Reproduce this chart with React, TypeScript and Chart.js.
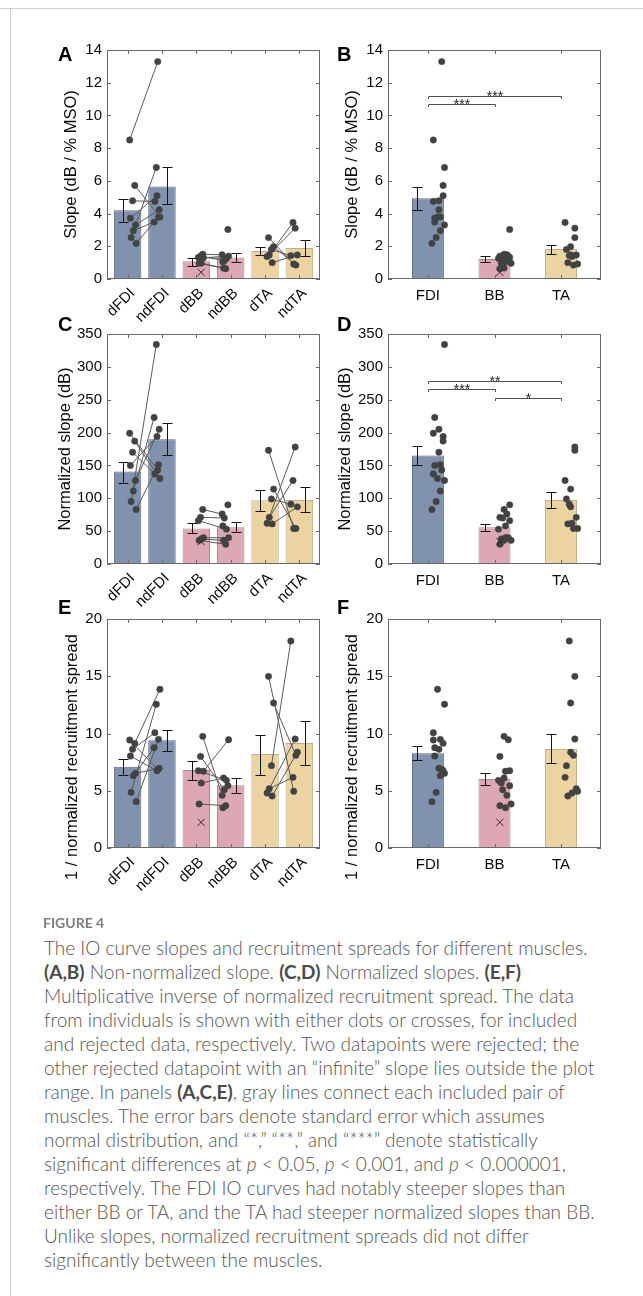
import React, { useEffect, useMemo, useRef } from "react";
import { Chart, registerables } from "chart.js";
Chart.register(...registerables);

// ---------------- categories & ticks ----------------
const PAIRED_CATEGORIES = ["dFDI", "ndFDI", "dBB", "ndBB", "dTA", "ndTA"];
const MUSCLE_CATEGORIES = ["FDI", "BB", "TA"];
const SLOPE_TICKS = [0, 2, 4, 6, 8, 10, 12, 14];
const NORM_TICKS = [0, 50, 100, 150, 200, 250, 300, 350];
const SPREAD_TICKS = [0, 5, 10, 15, 20];

// ---------------- Panel A/B: slope (dB / % MSO) ----------------
const slopePairedMean = [4.21, 5.66, 1.08, 1.32, 1.71, 1.89];
const slopePairedLow = [3.48, 4.6, 0.77, 1.04, 1.44, 1.42];
const slopePairedHigh = [4.92, 6.82, 1.28, 1.59, 1.93, 2.36];
const slopeMuscleMean = [4.94, 1.22, 1.83];
const slopeMuscleLow = [4.23, 1.04, 1.55];
const slopeMuscleHigh = [5.62, 1.4, 2.06];
const slope_dFDI = [8.5, 5.72, 4.78, 3.72, 3.3, 2.95, 2.54, 2.18];
const slope_ndFDI = [13.29, 3.79, 4.74, 5.09, 4.23, 3.48, 6.82, 3.79];
const slope_dBB = [1.51, 1.4, 1.32, 1.3, 0.97, 0.96];
const slope_ndBB = [1.48, 1.12, 1.26, 1.4, 0.67, 0.63, 3.03, 1.05];
const slope_dTA = [2.53, 1.98, 1.81, 1.47, 1.38, 1.0];
const slope_ndTA = [0.92, 0.85, 1.43, 3.46, 3.11, 1.47];
const slopeRejected_dBB = [0.41];
const slopeBrackets = [
  { from: 1, to: 3, y: 11.19, label: "***" },
  { from: 1, to: 2, y: 10.68, label: "***" },
];

// ---------------- Panel C/D: normalized slope (dB) ----------------
const normPairedMean = [140.7, 190, 54, 56, 97, 97.4];
const normPairedLow = [124, 166, 47, 48, 80, 79];
const normPairedHigh = [155, 214, 63, 64, 113, 117];
const normMuscleMean = [165, 56, 97.5];
const normMuscleLow = [150, 50.8, 85];
const normMuscleHigh = [180, 61.5, 110];
const norm_dFDI = [199, 187, 170, 150, 127, 111, 95, 83];
const norm_ndFDI = [143, 130, 137, 194, 205, 223, 334, 151];
const norm_dBB = [83, 71, 66, 40, 38, 36];
const norm_ndBB = [76, 70, 53, 40, 36, 30, 90, 58];
const norm_dTA = [173, 114, 99, 71, 62, 61];
const norm_ndTA = [54, 54, 91, 127, 178, 87];
const normRejected_dBB = [34];
const normBrackets = [
  { from: 1, to: 3, y: 279, label: "**" },
  { from: 1, to: 2, y: 267, label: "***" },
  { from: 2, to: 3, y: 253, label: "*" },
];

// ---------------- Panel E/F: 1 / normalized recruitment spread ----------------
const spreadPairedMean = [7.1, 9.4, 6.81, 5.47, 8.21, 9.17];
const spreadPairedLow = [6.4, 8.47, 5.94, 4.8, 6.4, 7.28];
const spreadPairedHigh = [7.8, 10.33, 7.6, 6.08, 9.87, 11.06];
const spreadMuscleMean = [8.27, 6.03, 8.65];
const spreadMuscleLow = [7.66, 5.47, 7.39];
const spreadMuscleHigh = [8.91, 6.55, 9.96];
const spread_dFDI = [9.43, 9.14, 8.62, 8.03, 6.52, 6.32, 4.86, 4.05];
const spread_ndFDI = [6.87, 13.86, 10.07, 6.75, 6.96, 8.76, 12.55, 9.49];
const spread_dBB = [9.75, 8.0, 6.75, 6.7, 5.68, 3.84];
const spread_ndBB = [4.6, 5.09, 5.91, 9.46, 6.11, 3.7, 5.44, 3.52];
const spread_dTA = [14.99, 12.66, 7.19, 5.18, 4.8, 4.54];
const spread_ndTA = [4.95, 8.09, 18.08, 6.17, 9.52, 8.36];
const spreadRejected_dBB = [2.24];

// ---------------- styles ----------------
const FONT = "'Liberation Sans', Arial, Helvetica, sans-serif";
const CAPTION_FONT = "Lato, 'Open Sans', sans-serif";
const TEXT = "#0a0a0a";
const AXIS = "#6a6a6a";
const FILL = { FDI: "#8092AE", BB: "#DDA8B4", TA: "#EBD4A1" };
const EDGE = { FDI: "#5A6883", BB: "#A6838C", TA: "#C2AD84" };
const MUSCLES = ["FDI", "BB", "TA"] as const;

type Pt = { x: number; y: number };
type Bracket = { from: number; to: number; y: number; label: string };
interface PanelSpec {
  cx: number; cy: number; cw: number; ch: number;
  plot: { l: number; t: number; r: number; b: number };
  cats: string[]; rotated: boolean; xmin: number; xmax: number;
  ticks: number[]; yTitle: string; titleX: number; titleY: number;
  letter: string; letterX: number; letterY: number;
  means: number[]; lo: number[]; hi: number[]; errOff: number[];
  fills: string[]; edges: string[];
  dots: Pt[]; rejected: Pt[]; pairs: [Pt, Pt][]; brackets: Bracket[];
}

// deterministic horizontal jitter (positions only)
const jit = (i: number, s: number) => 0.06 + ((i * 7 + s * 3) % 10) * 0.021;

function pairedMarks(groups: { d: number[]; nd: number[] }[], rejected: number[]) {
  const dots: Pt[] = [];
  const pairs: [Pt, Pt][] = [];
  groups.forEach((g, gi) => {
    const dx = 2 * gi + 1, ndx = 2 * gi + 2;
    const dPts = g.d.map((v, i) => ({ x: dx + jit(i, 2 * gi), y: v }));
    const ndPts = g.nd.map((v, i) => ({ x: ndx - jit(i, 2 * gi + 1), y: v }));
    const n = Math.min(dPts.length, ndPts.length);
    for (let i = 0; i < n; i++) pairs.push([dPts[i], ndPts[i]]);
    dots.push(...dPts, ...ndPts);
  });
  const rej = rejected.map((v) => ({ x: 3 + 0.14, y: v }));
  return { dots, pairs, rejected: rej };
}

function muscleMarks(groups: { d: number[]; nd: number[] }[], rejected: number[]) {
  const dots: Pt[] = [];
  groups.forEach((g, gi) => {
    g.d.concat(g.nd).forEach((v, i) => dots.push({ x: gi + 1 + jit(i, gi + 7), y: v }));
  });
  const rej = rejected.map((v) => ({ x: 2 + 0.08, y: v }));
  return { dots, pairs: [] as [Pt, Pt][], rejected: rej };
}

const ROWS = [
  { cy: 25, ch: 305, t: 50, b: 279 },
  { cy: 300, ch: 310, t: 334, b: 564 },
  { cy: 585, ch: 315, t: 619, b: 848 },
];
const COLS = [
  { cx: 20, cw: 315, l: 107, r: 320 },
  { cx: 325, cw: 318, l: 388, r: 601 },
];

const pairedFills = ["FDI", "FDI", "BB", "BB", "TA", "TA"].map((m) => (FILL as any)[m]);
const pairedEdges = ["FDI", "FDI", "BB", "BB", "TA", "TA"].map((m) => (EDGE as any)[m]);
const muscleFills = MUSCLES.map((m) => FILL[m]);
const muscleEdges = MUSCLES.map((m) => EDGE[m]);
const PAIRED_ERR_OFF = [-0.14, 0.15, -0.14, 0.15, -0.14, 0.15];
const MUSCLE_ERR_OFF = [-0.16, -0.15, -0.15];

function buildPanels(): PanelSpec[] {
  const slopeG = [
    { d: slope_dFDI, nd: slope_ndFDI },
    { d: slope_dBB, nd: slope_ndBB },
    { d: slope_dTA, nd: slope_ndTA },
  ];
  const normG = [
    { d: norm_dFDI, nd: norm_ndFDI },
    { d: norm_dBB, nd: norm_ndBB },
    { d: norm_dTA, nd: norm_ndTA },
  ];
  const spreadG = [
    { d: spread_dFDI, nd: spread_ndFDI },
    { d: spread_dBB, nd: spread_ndBB },
    { d: spread_dTA, nd: spread_ndTA },
  ];
  const base = (row: number, col: number) => {
    const R = ROWS[row], C = COLS[col];
    return {
      cx: C.cx, cy: R.cy, cw: C.cw, ch: R.ch,
      plot: { l: C.l, t: R.t, r: C.r, b: R.b },
    };
  };
  const paired = {
    cats: PAIRED_CATEGORIES, rotated: true, xmin: 0.4, xmax: 6.6,
    fills: pairedFills, edges: pairedEdges, errOff: PAIRED_ERR_OFF, brackets: [] as Bracket[],
  };
  const muscle = {
    cats: MUSCLE_CATEGORIES, rotated: false, xmin: 0.4, xmax: 3.6,
    fills: muscleFills, edges: muscleEdges, errOff: MUSCLE_ERR_OFF,
  };
  const t1 = "Slope (dB / % MSO)";
  const t2 = "Normalized slope (dB)";
  const t3 = "1 / normalized recruitment spread";
  return [
    {
      ...base(0, 0), ...paired, ticks: SLOPE_TICKS, yTitle: t1, titleX: 71, titleY: 164.5,
      letter: "A", letterX: 58, letterY: 55,
      means: slopePairedMean, lo: slopePairedLow, hi: slopePairedHigh,
      ...pairedMarks(slopeG, slopeRejected_dBB),
    },
    {
      ...base(0, 1), ...muscle, ticks: SLOPE_TICKS, yTitle: t1, titleX: 352, titleY: 164.5,
      letter: "B", letterX: 337, letterY: 55,
      means: slopeMuscleMean, lo: slopeMuscleLow, hi: slopeMuscleHigh, brackets: slopeBrackets,
      ...muscleMarks(slopeG, slopeRejected_dBB),
    },
    {
      ...base(1, 0), ...paired, ticks: NORM_TICKS, yTitle: t2, titleX: 65, titleY: 449,
      letter: "C", letterX: 58, letterY: 325,
      means: normPairedMean, lo: normPairedLow, hi: normPairedHigh,
      ...pairedMarks(normG, normRejected_dBB),
    },
    {
      ...base(1, 1), ...muscle, ticks: NORM_TICKS, yTitle: t2, titleX: 345, titleY: 449,
      letter: "D", letterX: 337, letterY: 325,
      means: normMuscleMean, lo: normMuscleLow, hi: normMuscleHigh, brackets: normBrackets,
      ...muscleMarks(normG, normRejected_dBB),
    },
    {
      ...base(2, 0), ...paired, ticks: SPREAD_TICKS, yTitle: t3, titleX: 72, titleY: 757,
      letter: "E", letterX: 58, letterY: 608.5,
      means: spreadPairedMean, lo: spreadPairedLow, hi: spreadPairedHigh,
      ...pairedMarks(spreadG, spreadRejected_dBB),
    },
    {
      ...base(2, 1), ...muscle, ticks: SPREAD_TICKS, yTitle: t3, titleX: 352, titleY: 757,
      letter: "F", letterX: 337, letterY: 608.5,
      means: spreadMuscleMean, lo: spreadMuscleLow, hi: spreadMuscleHigh, brackets: [],
      ...muscleMarks(spreadG, spreadRejected_dBB),
    },
  ];
}

function makeChart(canvas: HTMLCanvasElement, s: PanelSpec) {
  const yAxisW = s.plot.l - s.cx;
  const padTop = s.plot.t - s.cy;
  const padRight = s.cx + s.cw - s.plot.r;
  const xAxisH = s.cy + s.ch - s.plot.b;

  const seg = (ctx: CanvasRenderingContext2D, x1: number, y1: number, x2: number, y2: number) => {
    ctx.beginPath();
    ctx.moveTo(x1, y1);
    ctx.lineTo(x2, y2);
    ctx.stroke();
  };

  const decor = {
    id: "decor",
    afterDatasetDraw(chart: any, args: any) {
      if (args.index !== 0) return;
      const { ctx } = chart;
      const x = chart.scales.x, y = chart.scales.y;
      ctx.save();
      ctx.strokeStyle = "#141414";
      ctx.lineWidth = 1;
      s.means.forEach((_, i) => {
        const px = Math.round(x.getPixelForValue(i + 1 + s.errOff[i])) + 0.5;
        const y1 = Math.round(y.getPixelForValue(s.lo[i])) + 0.5;
        const y2 = Math.round(y.getPixelForValue(s.hi[i])) + 0.5;
        seg(ctx, px, y1, px, y2);
        seg(ctx, px - 5, y1, px + 5, y1);
        seg(ctx, px - 5, y2, px + 5, y2);
      });
      ctx.restore();
    },
    afterDraw(chart: any) {
      const { ctx, chartArea: a } = chart;
      const x = chart.scales.x, y = chart.scales.y;
      const L = Math.round(a.left), R = Math.round(a.right), T = Math.round(a.top), B = Math.round(a.bottom);
      ctx.save();
      ctx.strokeStyle = AXIS;
      ctx.lineWidth = 1;
      ctx.strokeRect(L + 0.5, T + 0.5, R - L - 1, B - T - 1);
      s.ticks.forEach((v) => {
        const py = Math.round(y.getPixelForValue(v)) + 0.5;
        seg(ctx, L, py, L + 4, py);
        seg(ctx, R - 4, py, R, py);
      });
      s.cats.forEach((_, i) => {
        const px = Math.round(x.getPixelForValue(i + 1)) + 0.5;
        seg(ctx, px, T, px, T + 4);
        seg(ctx, px, B - 4, px, B);
      });
      // category labels
      ctx.fillStyle = TEXT;
      ctx.font = `15px ${FONT}`;
      s.cats.forEach((c, i) => {
        const px = x.getPixelForValue(i + 1);
        if (s.rotated) {
          ctx.save();
          ctx.translate(px + 5, B + 12);
          ctx.rotate(-Math.PI / 4);
          ctx.textAlign = "right";
          ctx.textBaseline = "middle";
          ctx.fillText(c, 0, 0);
          ctx.restore();
        } else {
          ctx.textAlign = "center";
          ctx.textBaseline = "middle";
          ctx.fillText(c, px, B + 17);
        }
      });
      // significance brackets
      ctx.strokeStyle = "#505050";
      s.brackets.forEach((br) => {
        const x1 = Math.round(x.getPixelForValue(br.from)) + 0.5;
        const x2 = Math.round(x.getPixelForValue(br.to)) + 0.5;
        const py = Math.round(y.getPixelForValue(br.y)) + 0.5;
        ctx.beginPath();
        ctx.moveTo(x1, py + 2.5);
        ctx.lineTo(x1, py);
        ctx.lineTo(x2, py);
        ctx.lineTo(x2, py + 2.5);
        ctx.stroke();
        ctx.fillStyle = "#222";
        ctx.font = `14px ${FONT}`;
        ctx.textAlign = "center";
        ctx.textBaseline = "alphabetic";
        ctx.fillText(br.label, (x1 + x2) / 2, py + 4.5);
      });
      // y title
      ctx.fillStyle = TEXT;
      ctx.save();
      ctx.translate(s.titleX - s.cx, s.titleY - s.cy);
      ctx.rotate(-Math.PI / 2);
      ctx.font = `16.5px ${FONT}`;
      ctx.textAlign = "center";
      ctx.textBaseline = "middle";
      ctx.fillText(s.yTitle, 0, 0);
      ctx.restore();
      // panel letter
      ctx.font = `bold 20px ${FONT}`;
      ctx.textAlign = "left";
      ctx.textBaseline = "middle";
      ctx.fillStyle = "#000";
      ctx.fillText(s.letter, s.letterX - s.cx, s.letterY - s.cy);
      ctx.restore();
    },
  };

  const datasets: any[] = [
    {
      type: "bar",
      data: s.means.map((m, i) => ({ x: i + 1, y: m })),
      backgroundColor: s.fills,
      borderColor: s.edges,
      borderWidth: 1,
      borderSkipped: false,
      barPercentage: 0.8,
      categoryPercentage: 1,
      grouped: false,
      order: 10,
    },
    ...s.pairs.map((p) => ({
      type: "line",
      data: [p[0], p[1]],
      borderColor: "#5a5a5a",
      borderWidth: 1,
      pointRadius: 0,
      tension: 0,
      fill: false,
      order: 5,
    })),
    {
      type: "scatter",
      data: s.dots,
      pointRadius: 3.2,
      pointBackgroundColor: "#424242",
      pointBorderColor: "#424242",
      pointBorderWidth: 0.5,
      order: 2,
    },
    {
      type: "scatter",
      data: s.rejected,
      pointStyle: "crossRot",
      pointRadius: 5,
      pointBorderColor: "#2a2a2a",
      pointBorderWidth: 1,
      order: 1,
    },
  ];

  return new Chart(canvas, {
    type: "bar",
    data: { datasets },
    options: {
      animation: false,
      responsive: false,
      devicePixelRatio: 1,
      events: [],
      layout: { padding: { top: padTop, right: padRight, left: 0, bottom: 0 } },
      plugins: { legend: { display: false }, tooltip: { enabled: false } },
      scales: {
        x: {
          type: "linear",
          min: s.xmin,
          max: s.xmax,
          offset: false,
          grid: { display: false, drawTicks: false, tickLength: 0 },
          border: { display: false },
          ticks: { display: false },
          afterFit: (sc: any) => {
            sc.height = xAxisH;
          },
        },
        y: {
          type: "linear",
          min: 0,
          max: s.ticks[s.ticks.length - 1],
          grid: { display: false, drawTicks: false, tickLength: 0 },
          border: { display: false },
          ticks: {
            padding: 5,
            color: TEXT,
            autoSkip: false,
            font: { family: FONT, size: 15 },
          },
          afterBuildTicks: (sc: any) => {
            sc.ticks = s.ticks.map((v) => ({ value: v }));
          },
          afterFit: (sc: any) => {
            sc.width = yAxisW;
          },
        },
      },
    } as any,
    plugins: [decor as any],
  });
}

function Panel({ spec }: { spec: PanelSpec }) {
  const ref = useRef<HTMLCanvasElement>(null);
  useEffect(() => {
    const chart = makeChart(ref.current!, spec);
    return () => chart.destroy();
  }, [spec]);
  return (
    <canvas
      ref={ref}
      width={spec.cw}
      height={spec.ch}
      style={{ position: "absolute", left: spec.cx, top: spec.cy, width: spec.cw, height: spec.ch }}
    />
  );
}

const CAPTION_FIRST = "The IO curve slopes and recruitment spreads for different muscles.";

function Caption() {
  const size = useMemo(() => {
    const c = document.createElement("canvas").getContext("2d")!;
    c.font = `300 100px ${CAPTION_FONT}`;
    const w = c.measureText(CAPTION_FIRST).width;
    return Math.max(13, Math.min(19, (100 * 575) / w));
  }, []);
  const b = (t: string) => <b style={{ color: "#4a4a4a", fontWeight: 700 }}>{t}</b>;
  const lines: React.ReactNode[] = [
    CAPTION_FIRST,
    <>{b("(A,B)")} Non-normalized slope. {b("(C,D)")} Normalized slopes. {b("(E,F)")}</>,
    "Multiplicative inverse of normalized recruitment spread. The data",
    "from individuals is shown with either dots or crosses, for included",
    "and rejected data, respectively. Two datapoints were rejected; the",
    "other rejected datapoint with an \u201cinfinite\u201d slope lies outside the plot",
    <>range. In panels {b("(A,C,E)")}, gray lines connect each included pair of</>,
    "muscles. The error bars denote standard error which assumes",
    "normal distribution, and \u201c*,\u201d \u201c**,\u201d and \u201c***\u201d denote statistically",
    <>significant differences at <i>p</i> &lt; 0.05, <i>p</i> &lt; 0.001, and <i>p</i> &lt; 0.000001,</>,
    "respectively. The FDI IO curves had notably steeper slopes than",
    "either BB or TA, and the TA had steeper normalized slopes than BB.",
    "Unlike slopes, normalized recruitment spreads did not differ",
    "significantly between the muscles.",
  ];
  return (
    <>
      <div
        style={{
          position: "absolute", left: 43, top: 913, lineHeight: "20px", fontSize: 14,
          fontFamily: CAPTION_FONT, fontWeight: 700, color: "#7d7d7d", whiteSpace: "nowrap",
        }}
      >
        FIGURE 4
      </div>
      {lines.map((ln, i) => (
        <div
          key={i}
          style={{
            position: "absolute", left: 44, top: 948 + 24 * i - 12, lineHeight: "24px",
            fontSize: size, fontFamily: CAPTION_FONT, fontWeight: 300, color: "#555555",
            whiteSpace: "nowrap",
          }}
        >
          {ln}
        </div>
      ))}
    </>
  );
}

export default function App() {
  const panels = useMemo(() => buildPanels(), []);
  return (
    <div
      style={{
        position: "absolute", left: 0, top: 0, width: 643, height: 1296,
        overflow: "hidden", background: "#fff",
      }}
    >
      <div style={{ position: "absolute", left: 0, top: 8, width: 643, height: 1, background: "#cfcfcf" }} />
      <div style={{ position: "absolute", left: 10, top: 8, width: 1, height: 1288, background: "#cfcfcf" }} />
      {panels.map((p, i) => (
        <Panel key={i} spec={p} />
      ))}
      <Caption />
    </div>
  );
}
